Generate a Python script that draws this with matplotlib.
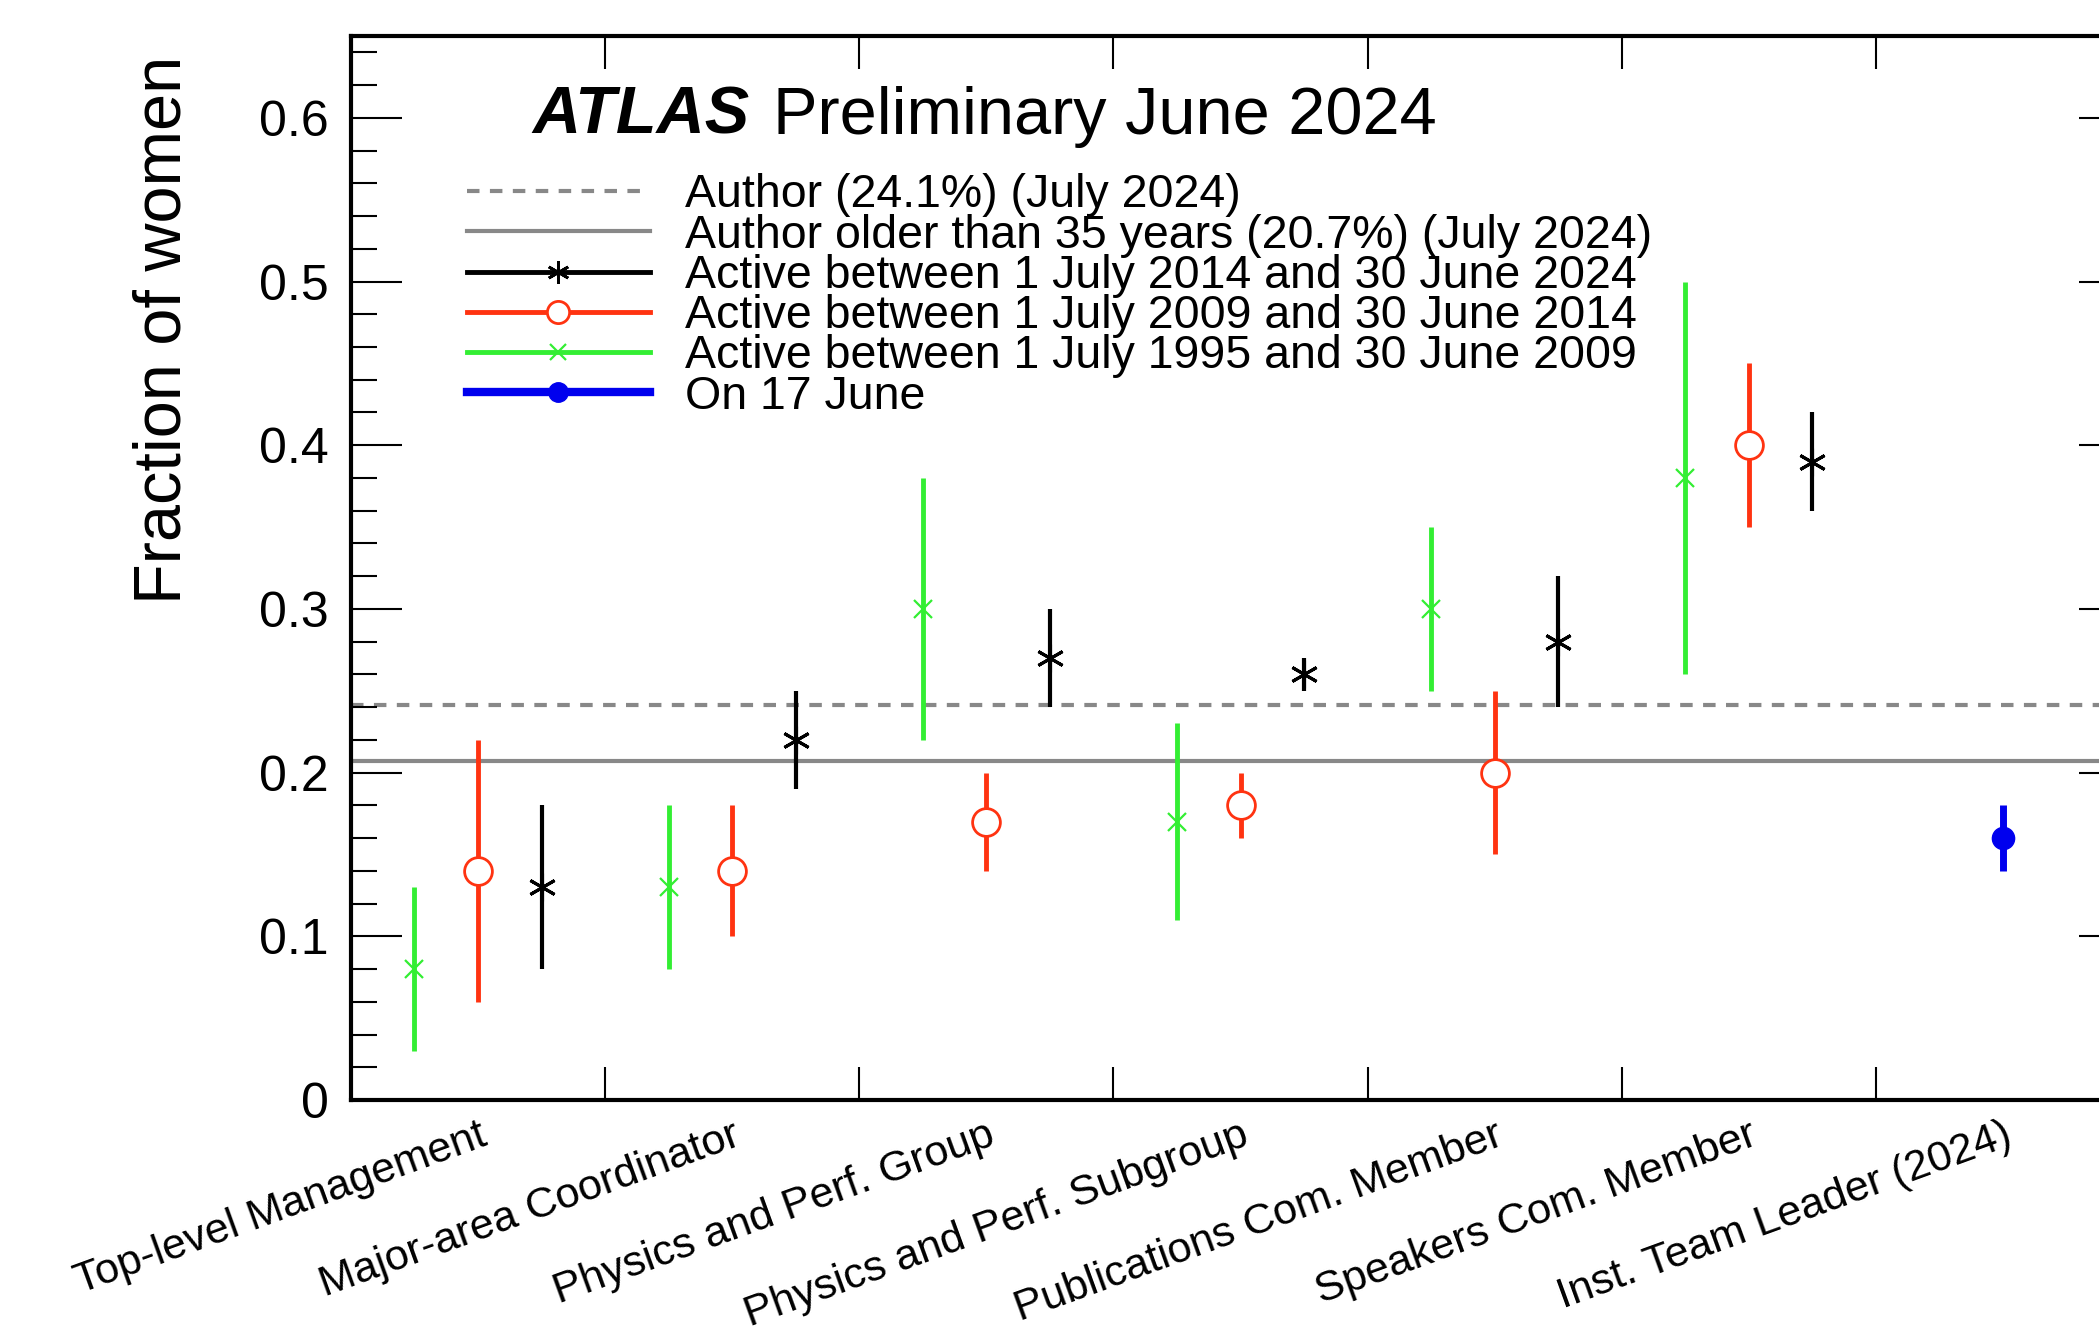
import numpy as np
import matplotlib
matplotlib.use("Agg")
import matplotlib.pyplot as plt
from matplotlib.lines import Line2D
from matplotlib.transforms import ScaledTranslation

plt.rcParams['font.family'] = ['Liberation Sans', 'DejaVu Sans']

# categories (one bin each)
categories = ["Top-level Management", "Major-area Coordinator", "Physics and Perf. Group",
              "Physics and Perf. Subgroup", "Publications Com. Member", "Speakers Com. Member",
              "Inst. Team Leader (2024)"]

# reference lines
author_all = 0.241
author_35 = 0.207

# active 1 July 1995 - 30 June 2009 (first 6 categories)
green_val = [0.08, 0.13, 0.30, 0.17, 0.30, 0.38]
green_lo = [0.03, 0.08, 0.22, 0.11, 0.25, 0.26]
green_hi = [0.13, 0.18, 0.38, 0.23, 0.35, 0.50]

# active 1 July 2009 - 30 June 2014
red_val = [0.14, 0.14, 0.17, 0.18, 0.20, 0.40]
red_lo = [0.06, 0.10, 0.14, 0.16, 0.15, 0.35]
red_hi = [0.22, 0.18, 0.20, 0.20, 0.25, 0.45]

# active 1 July 2014 - 30 June 2024
black_val = [0.13, 0.22, 0.27, 0.26, 0.28, 0.39]
black_lo = [0.08, 0.19, 0.24, 0.25, 0.24, 0.36]
black_hi = [0.18, 0.25, 0.30, 0.27, 0.32, 0.42]

# on 17 June (last category only)
blue_val = [0.16]
blue_lo = [0.14]
blue_hi = [0.18]

legend_labels = ["Author (24.1%) (July 2024)",
                 "Author older than 35 years (20.7%) (July 2024)",
                 "Active between 1 July 2014 and 30 June 2024",
                 "Active between 1 July 2009 and 30 June 2014",
                 "Active between 1 July 1995 and 30 June 2009",
                 "On 17 June"]

GRAY = "#888888"
GREEN = "#33ee33"
RED = "#ff3311"
BLACK = "black"
BLUE = "#0000ee"

fig = plt.figure(figsize=(20.99, 13.33), dpi=100)
ax = fig.add_axes([0.1672, 0.1748, 0.8476, 0.7982])


def yerr(val, lo, hi):
    val = np.array(val)
    return [val - np.array(lo), np.array(hi) - val]


n6 = np.arange(len(green_val))
ax.axhline(author_all, color=GRAY, lw=3, ls=(0, (3, 2.5)), zorder=1)
ax.axhline(author_35, color=GRAY, lw=3, zorder=1)

ax.errorbar(n6 + 0.25, green_val, yerr=yerr(green_val, green_lo, green_hi), fmt='x',
            color=GREEN, elinewidth=3.5, ms=13, mew=1.6, capsize=0, zorder=3)
ax.errorbar(n6 + 0.5, red_val, yerr=yerr(red_val, red_lo, red_hi), fmt='o',
            color=RED, mfc='white', mec=RED, elinewidth=3.5, ms=20, mew=2, capsize=0, zorder=3)
ax.errorbar(n6 + 0.75, black_val, yerr=yerr(black_val, black_lo, black_hi), fmt='none',
            ecolor=BLACK, elinewidth=3, capsize=0, zorder=3)
ax.plot(n6 + 0.75, black_val, ls='none', marker=(6, 2, 0), ms=20, mew=2.2, color=BLACK, zorder=4)
ax.errorbar([6.5], blue_val, yerr=yerr(blue_val, blue_lo, blue_hi), fmt='o',
            color=BLUE, elinewidth=5, ms=16, capsize=0, zorder=3)

ax.set_xlim(0, 7)
ax.set_ylim(0, 0.65)

# axis ticks
ax.set_yticks(np.arange(0, 0.61, 0.1))
ax.set_yticklabels(["0", "0.1", "0.2", "0.3", "0.4", "0.5", "0.6"])
ax.set_yticks(np.arange(0, 0.651, 0.02), minor=True)
ax.set_xticks(np.arange(1, 7))
ax.set_xticklabels([])
ax.set_xticks(np.arange(7) + 0.5, minor=True)
ax.set_xticklabels(categories, minor=True, rotation=20, ha='right', rotation_mode='anchor',
                   fontsize=31)
for lab in ax.get_xticklabels(minor=True):
    lab.set_transform(lab.get_transform() + ScaledTranslation(-8 / 72, 0, fig.dpi_scale_trans))
ax.tick_params(axis='y', which='major', direction='in', length=37, width=1.5,
               right=True, labelsize=36, pad=16)
ax.tick_params(axis='y', which='minor', direction='in', length=19, width=1.5, right=True)
ax.tick_params(axis='x', which='major', direction='in', length=24, width=1.5, top=True)
ax.tick_params(axis='x', which='minor', length=0, pad=11)
for s in ax.spines.values():
    s.set_linewidth(3)

ax.set_ylabel("Fraction of women", fontsize=48, loc='top')
ax.yaxis.set_label_coords(-0.088, 0.981)

# title
ax.text(0.102, 0.908, "ATLAS", transform=ax.transAxes, fontsize=48,
        fontweight='bold', fontstyle='italic', va='baseline')
ax.text(0.237, 0.908, "Preliminary June 2024", transform=ax.transAxes, fontsize=48,
        va='baseline')

handles = [
    Line2D([], [], color=GRAY, lw=3, ls=(0, (3, 2.5))),
    Line2D([], [], color=GRAY, lw=3),
    Line2D([], [], color=BLACK, lw=3.5, marker=(6, 2, 0), ms=16, mew=2),
    Line2D([], [], color=RED, lw=3.5, marker='o', mfc='white', mec=RED, ms=16, mew=2),
    Line2D([], [], color=GREEN, lw=3.5, marker='x', ms=12, mew=1.6),
    Line2D([], [], color=BLUE, lw=6, marker='o', ms=14),
]
ax.legend(handles, legend_labels, loc='upper left', bbox_to_anchor=(0.065, 0.871),
          frameon=False, fontsize=33.5, borderpad=0, borderaxespad=0,
          labelspacing=-0.08, handlelength=3.95, handletextpad=0.75)

fig.savefig("out.png", dpi=100)
